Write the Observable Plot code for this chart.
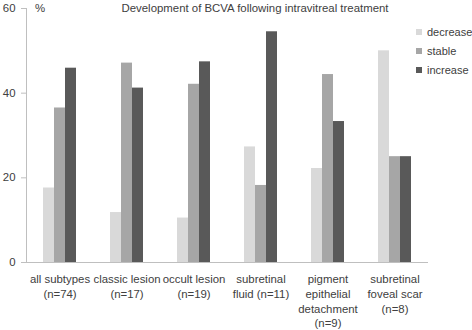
<!DOCTYPE html>
<html>
<head>
<meta charset="utf-8">
<script src="https://cdn.jsdelivr.net/npm/d3@7"></script>
<script src="https://cdn.jsdelivr.net/npm/@observablehq/plot@0.6"></script>
<style>
  body { margin: 0; background: #fff; }
  #wrap { position: relative; width: 472px; height: 330px; font-family: "Liberation Sans", Arial, sans-serif; color: #404040; }
  #title { position: absolute; left: 255px; top: 2px; transform: translateX(-50%); font-size: 11.4px; line-height: 13px; white-space: nowrap; }
  #unit { position: absolute; left: 35px; top: 2px; font-size: 11.4px; line-height: 13px; }
  #legend { position: absolute; left: 416px; top: 22px; font-size: 11px; white-space: nowrap; }
  .row { display: flex; align-items: center; height: 19px; }
  .sw { width: 6px; height: 6px; margin-right: 5px; }
</style>
</head>
<body>
<div id="wrap">
  <div id="chart"></div>
  <div id="title"></div>
  <div id="unit"></div>
  <div id="legend"></div>
</div>
<script>
const titleText = "Development of BCVA following intravitreal treatment";
const unitText = "%";
const categories = ["all subtypes", "classic lesion", "occult lesion", "subretinal fluid", "pigment epithelial detachment", "subretinal foveal scar"];
const categoryLabels = ["all subtypes\n(n=74)", "classic lesion\n(n=17)", "occult lesion\n(n=19)", "subretinal\nfluid (n=11)", "pigment\nepithelial\ndetachment\n(n=9)", "subretinal\nfoveal scar\n(n=8)"];
const series = ["decrease", "stable", "increase"];
const decrease = [17.6, 11.8, 10.5, 27.3, 22.2, 50.0];
const stable = [36.5, 47.1, 42.1, 18.2, 44.4, 25.0];
const increase = [45.9, 41.2, 47.4, 54.5, 33.3, 25.0];
const colors = ["#d9d9d9", "#a6a6a6", "#595959"];
const yTicks = [0, 20, 40, 60];

const valuesBySeries = [decrease, stable, increase];
const data = [];
categories.forEach((c, i) => {
  series.forEach((s, j) => data.push({cat: c, series: s, value: valuesBySeries[j][i]}));
});
const labelOf = new Map(categories.map((c, i) => [c, categoryLabels[i]]));

const chart = Plot.plot({
  width: 472,
  height: 330,
  marginLeft: 24,
  marginRight: 42,
  marginTop: 8,
  marginBottom: 68,
  style: {fontFamily: "'Liberation Sans', Arial, sans-serif", fontSize: "11.4px", color: "#404040", background: "#fff"},
  fx: {domain: categories, padding: 0, label: null},
  x: {domain: series, paddingInner: 0, paddingOuter: 1.5, axis: null},
  y: {domain: [0, 60], label: null},
  color: {domain: series, range: colors},
  marks: [
    Plot.barY(data, {fx: "cat", x: "series", y: "value", fill: "series"}),
    Plot.ruleY([0], {stroke: "#bfbfbf"}),
    Plot.frame({anchor: "left", stroke: "#bfbfbf", facetAnchor: "left"}),
    Plot.axisY({ticks: yTicks, tickSize: 5, tickPadding: 6, stroke: "#bfbfbf", fill: "#404040", label: null}),
    Plot.axisFx({anchor: "bottom", tickSize: 0, tickPadding: 10, lineHeight: 1.3, label: null, fill: "#404040", tickFormat: d => labelOf.get(d)})
  ]
});
document.getElementById("chart").appendChild(chart);
document.getElementById("title").textContent = titleText;
document.getElementById("unit").textContent = unitText;
const legend = document.getElementById("legend");
series.forEach((s, j) => {
  const row = document.createElement("div");
  row.className = "row";
  const sw = document.createElement("div");
  sw.className = "sw";
  sw.style.background = colors[j];
  const t = document.createElement("span");
  t.textContent = s;
  row.appendChild(sw);
  row.appendChild(t);
  legend.appendChild(row);
});
</script>
</body>
</html>
